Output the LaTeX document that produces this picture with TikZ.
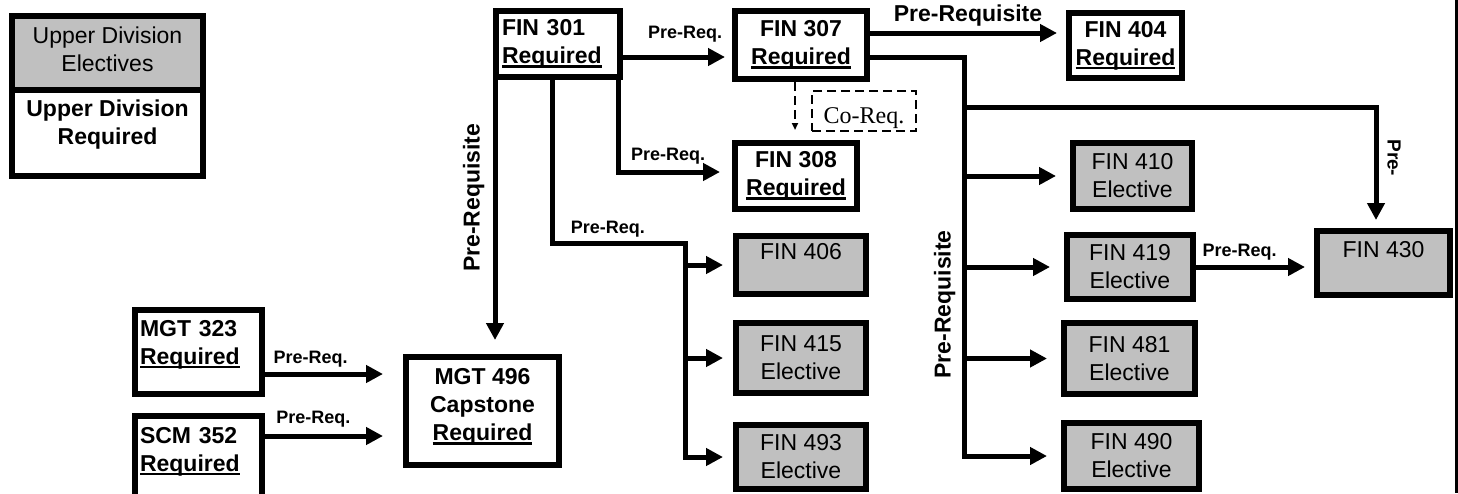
\documentclass[tikz,border=0pt]{standalone}
\usepackage{fontspec}
\setmainfont{Liberation Sans}
\newfontfamily\coreqfont{Liberation Serif}
\usetikzlibrary{arrows.meta}

\definecolor{ElectiveGray}{HTML}{c0c0c0}
\newcommand{\reqline}[1]{\leavevmode\setbox0=\hbox{#1}\rlap{\rule[-4pt]{\wd0}{2.4pt}}\box0}

\tikzstyle{required-box}=[draw, line width=6pt, fill=white, align=center, inner sep=0pt,
      font=\fontsize{23}{28}\selectfont\bfseries]
\tikzstyle{elective-box}=[draw, line width=6pt, fill=ElectiveGray, align=center, inner sep=0pt,
      font=\fontsize{23}{28}\selectfont]
\tikzstyle{prereq-arrow}=[line width=5pt, -{Triangle[length=17pt, width=17pt]}]
\tikzstyle{prereq-label}=[inner sep=1pt, font=\fontsize{18}{20}\selectfont\bfseries]
\tikzstyle{prereq-title}=[inner sep=1pt, font=\fontsize{23}{26}\selectfont\bfseries]
\tikzstyle{coreq-arrow}=[line width=1.8pt, dash pattern=on 9pt off 5pt,
      -{Triangle[length=7pt, width=6pt]}]
\tikzstyle{coreq-box}=[draw, line width=1.8pt, dash pattern=on 9pt off 5pt, inner sep=0pt,
      font=\fontsize{24}{26}\coreqfont, text height=30pt, text depth=6pt]

\begin{document}
\begin{tikzpicture}
      \useasboundingbox (0pt, 0pt) rectangle (1458pt, -493pt);

      \node (legendelective) at (107.5pt, -52.75pt)
            [elective-box, minimum width=191pt, minimum height=73.5pt, text depth=7.5pt]
            {Upper Division\\Electives};
      \node (legendrequired) at (107.5pt, -132.75pt)
            [required-box, minimum width=191pt, minimum height=86.5pt, text depth=22pt]
            {Upper Division\\Required};

      \node (fin301) at (558pt, -44pt)
            [required-box, minimum width=124pt, minimum height=66pt, text width=112pt, align=left]
            {FIN 301\\\reqline{Required}};
      \node (fin307) at (801pt, -45pt)
            [required-box, minimum width=132pt, minimum height=68pt] {FIN 307\\\reqline{Required}};
      \node (fin404) at (1125.5pt, -45.5pt)
            [required-box, minimum width=113pt, minimum height=65pt] {FIN 404\\\reqline{Required}};
      \node (fin308) at (796pt, -176pt)
            [required-box, minimum width=122pt, minimum height=66pt] {FIN 308\\\reqline{Required}};
      \node (coreq) at (864pt, -111pt)
            [coreq-box, minimum width=104pt, minimum height=40pt] {Co-Req.};

      \node (fin406) at (801pt, -265pt)
            [elective-box, minimum width=130pt, minimum height=58pt] {FIN 406\\\mbox{}};
      \node (fin415) at (801pt, -358pt)
            [elective-box, minimum width=130pt, minimum height=70pt] {FIN 415\\Elective};
      \node (fin493) at (801pt, -457pt)
            [elective-box, minimum width=130pt, minimum height=64pt] {FIN 493\\Elective};

      \node (fin410) at (1132.5pt, -176pt)
            [elective-box, minimum width=119pt, minimum height=66pt] {FIN 410\\Elective};
      \node (fin419) at (1130pt, -267pt)
            [elective-box, minimum width=126pt, minimum height=64pt] {FIN 419\\Elective};
      \node (fin481) at (1129.5pt, -358.5pt)
            [elective-box, minimum width=131pt, minimum height=71pt] {FIN 481\\Elective};
      \node (fin490) at (1131.5pt, -456pt)
            [elective-box, minimum width=135pt, minimum height=66pt] {FIN 490\\Elective};
      \node (fin430) at (1383.5pt, -263pt)
            [elective-box, minimum width=133pt, minimum height=64pt] {FIN 430\\\mbox{}};

      \node (mgt323) at (198.5pt, -352pt)
            [required-box, minimum width=127pt, minimum height=84pt, text width=117pt, align=left,
             text depth=48pt] {MGT 323\\\reqline{Required}};
      \node (scm352) at (198.5pt, -463pt)
            [required-box, minimum width=127pt, minimum height=94pt, text width=117pt, align=left,
             text depth=56pt] {SCM 352\\\reqline{Required}};
      \node (mgt496) at (482.5pt, -411pt)
            [required-box, minimum width=153pt, minimum height=108pt, text depth=13pt]
            {MGT 496\\Capstone\\\reqline{Required}};

      \coordinate (splitelective) at (685pt, -243pt);
      \coordinate (splitfin) at (964pt, -57pt);
      \coordinate (splitfinfour) at (964pt, -107pt);

      \draw[prereq-arrow, shorten >=7pt] ([yshift=-13pt]fin301.east)
            -- node (labelfin307) [prereq-label, pos=0.57, above=11pt] {Pre-Req.}
            ([yshift=-13pt]fin301.east -| fin307.west);
      \draw[prereq-arrow, shorten >=9pt] ([yshift=12pt]fin307.east)
            -- node (labelfin404) [prereq-title, midway, above=3pt] {Pre-Requisite}
            ([yshift=12pt]fin307.east -| fin404.west);
      \draw[prereq-arrow, shorten >=12pt] ([xshift=-5pt]fin301.south east)
            |- node (labelfin308) [prereq-label, pos=0.72, above=4pt] {Pre-Req.}
            ([yshift=4pt]fin308.west);
      \draw[coreq-arrow, shorten >=10pt] ([xshift=-6pt]fin307.south)
            -- ([xshift=-6pt]fin307.south |- fin308.north);

      \draw[prereq-arrow, shorten >=14pt] ([xshift=2pt]fin301.south west)
            -- node (labelmgt496) [prereq-title, pos=0.43, anchor=south, xshift=-7pt, rotate=90] {Pre-Requisite}
            ([xshift=2pt]fin301.south west |- mgt496.north);

      \draw[prereq-arrow, shorten >=10pt] ([xshift=-6pt]fin301.south)
            |- node (labelelective) [prereq-label, pos=0.71, above=2pt] {Pre-Req.}
            (splitelective) |- (fin493.west);
      \draw[prereq-arrow, shorten >=10pt] (splitelective |- fin406.west) -- (fin406.west);
      \draw[prereq-arrow, shorten >=10pt] (splitelective |- fin415.west) -- (fin415.west);

      \draw[prereq-arrow, shorten >=14pt] ([yshift=-12pt]fin307.east) -- (splitfin)
            |- node (labeltrunk) [prereq-title, pos=0.31, anchor=south, xshift=-5pt, rotate=90] {Pre-Requisite}
            (fin490.west);
      \draw[prereq-arrow, shorten >=14pt] (splitfin |- fin410.west) -- (fin410.west);
      \draw[prereq-arrow, shorten >=14pt] (splitfin |- fin419.west) -- (fin419.west);
      \draw[prereq-arrow, shorten >=14pt] (splitfin |- fin481.west) -- (fin481.west);
      \draw[prereq-arrow, shorten >=8pt] (splitfinfour)
            -| node (labelfin430) [prereq-label, font=\fontsize{19}{21}\selectfont\bfseries,
               pos=0.71, anchor=south, xshift=8pt, rotate=-90] {Pre-}
            ([xshift=-7.5pt]fin430.north);
      \draw[prereq-arrow, shorten >=9pt] (fin419.east)
            -- node (labelfin419) [prereq-label, pos=0.37, above=3pt] {Pre-Req.}
            (fin419.east -| fin430.west);

      \draw[prereq-arrow, shorten >=20pt] ([yshift=-22pt]mgt323.east)
            -- node (labelmgt323) [prereq-label, pos=0.33, above=3pt] {Pre-Req.}
            ([yshift=-22pt]mgt323.east -| mgt496.west);
      \draw[prereq-arrow, shorten >=20pt] ([yshift=27pt]scm352.east)
            -- node (labelscm352) [prereq-label, pos=0.35, above=5pt] {Pre-Req.}
            ([yshift=27pt]scm352.east -| mgt496.west);

      \draw[line width=3pt] (1456.5pt, 0pt) -- (1456.5pt, -493pt);
    \end{tikzpicture}
\end{document}
